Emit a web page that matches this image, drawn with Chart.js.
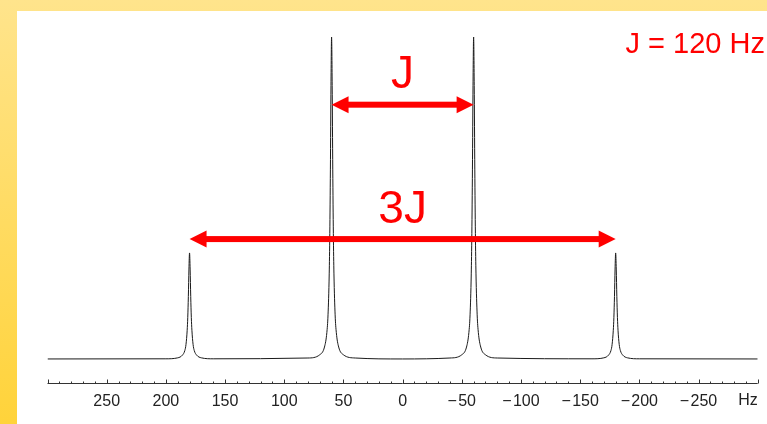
<!DOCTYPE html>
<html>
<head>
<meta charset="utf-8">
<script src="https://cdn.jsdelivr.net/npm/chart.js@4.4.1/dist/chart.umd.min.js"></script>
<style>
  html, body { margin: 0; padding: 0; width: 767px; height: 424px; overflow: hidden; }
  body { background: linear-gradient(to bottom, #ffe48c, #ffd33a); position: relative; }
  #sheet { position: absolute; left: 17px; top: 11px; right: 0; bottom: 0; background: #fff; }
  #chart { position: absolute; left: 0; top: 0; }
</style>
</head>
<body>
<div id="sheet"></div>
<canvas id="chart" width="767" height="424"></canvas>
<script>
// 1:3:3:1 quartet, J = 120 Hz, lines at +/-60 and +/-180 Hz
const spectrumHz = [
  300, 200, 190, 186, 184, 183, 182, 181.5, 181, 180.5, 180, 179.5, 179, 178.5, 178, 177, 176, 174, 170, 160,
  80, 70, 66, 64, 63, 62, 61.5, 61, 60.5, 60, 59.5, 59, 58.5, 58, 57, 56, 54, 50, 40,
  0,
  -40, -50, -54, -56, -57, -58, -58.5, -59, -59.5, -60, -60.5, -61, -61.5, -62, -63, -64, -66, -70, -80,
  -160, -170, -174, -176, -177, -178, -178.5, -179, -179.5, -180, -180.5, -181, -181.5, -182, -183, -184, -186, -190, -200, -300
];
const spectrumIntensity = [
  0.1, 0.15, 0.45, 1.3, 2.7, 4.6, 9, 13, 19.5, 28, 33, 28, 19.5, 13, 9, 4.6, 2.7, 1.3, 0.45, 0.15,
  0.4, 1.4, 3.8, 8.3, 13.8, 26.5, 39, 59, 85, 100, 85, 59, 39, 26.5, 13.8, 8.3, 3.8, 1.4, 0.4,
  0.1,
  0.4, 1.4, 3.8, 8.3, 13.8, 26.5, 39, 59, 85, 100, 85, 59, 39, 26.5, 13.8, 8.3, 3.8, 1.4, 0.4,
  0.15, 0.45, 1.3, 2.7, 4.6, 9, 13, 19.5, 28, 33, 28, 19.5, 13, 9, 4.6, 2.7, 1.3, 0.45, 0.15, 0.1
];
const tickLabels = [250, 200, 150, 100, 50, 0, -50, -100, -150, -200, -250];
const axisEnds = [300, -300];
const minorStep = 10;

// arrows span between the peaks, in Hz and intensity units
const arrowFrom = [60, 180];
const arrowTo = [-60, -180];
const arrowLevel = [79, 37.3];
const arrowText = ['J', '3J'];
const arrowTextLevel = [84.2, 42.3];

const RED = '#ff0000';
const TICK_FONT = '"Liberation Sans", Arial, sans-serif';

function drawArrow(ctx, xa, xb, y, shaft, headLen, headHalf) {
  const l = Math.min(xa, xb), r = Math.max(xa, xb);
  ctx.fillRect(l + headLen - 1, y - shaft / 2, r - l - 2 * headLen + 2, shaft);
  ctx.beginPath();
  ctx.moveTo(l, y);
  ctx.lineTo(l + headLen, y - headHalf);
  ctx.lineTo(l + headLen, y + headHalf);
  ctx.closePath();
  ctx.fill();
  ctx.beginPath();
  ctx.moveTo(r, y);
  ctx.lineTo(r - headLen, y - headHalf);
  ctx.lineTo(r - headLen, y + headHalf);
  ctx.closePath();
  ctx.fill();
}

const extras = {
  id: 'extras',
  afterDraw(chart) {
    const ctx = chart.ctx;
    const xs = chart.scales.x, ys = chart.scales.y;
    const axisY = Math.round(xs.top) + 0.5;
    ctx.save();
    // axis line with upward ticks
    ctx.strokeStyle = '#333';
    ctx.lineWidth = 1;
    ctx.beginPath();
    ctx.moveTo(xs.getPixelForValue(axisEnds[0]), axisY);
    ctx.lineTo(xs.getPixelForValue(axisEnds[1]), axisY);
    for (let v = axisEnds[1]; v <= axisEnds[0]; v += minorStep) {
      const px = Math.round(xs.getPixelForValue(v)) + 0.5;
      const major = v % 50 === 0;
      ctx.moveTo(px, axisY);
      ctx.lineTo(px, axisY - (major ? 4 : 2));
    }
    ctx.stroke();
    // unit label at the right end
    ctx.fillStyle = '#222';
    ctx.font = '16px ' + TICK_FONT;
    ctx.textAlign = 'right';
    ctx.textBaseline = 'alphabetic';
    ctx.fillText('Hz', xs.getPixelForValue(axisEnds[1]), 405);

    // red arrows and labels
    ctx.fillStyle = RED;
    for (let i = 0; i < arrowFrom.length; i++) {
      drawArrow(ctx, xs.getPixelForValue(arrowFrom[i]), xs.getPixelForValue(arrowTo[i]),
        ys.getPixelForValue(arrowLevel[i]), 6, 17, 8.5);
      ctx.font = '46px "Comic Sans MS", "Liberation Sans", sans-serif';
      ctx.textAlign = 'center';
      ctx.fillText(arrowText[i], xs.getPixelForValue(0), ys.getPixelForValue(arrowTextLevel[i]));
    }
    ctx.font = '29px "Comic Sans MS", "Liberation Sans", sans-serif';
    ctx.textAlign = 'right';
    ctx.fillText('J = 120 Hz', 765, 53);
    ctx.restore();
  }
};

new Chart(document.getElementById('chart'), {
  type: 'line',
  data: {
    datasets: [{
      data: spectrumHz.map((hz, i) => ({ x: hz, y: spectrumIntensity[i] })),
      borderColor: '#1a1a1a',
      borderWidth: 1,
      pointRadius: 0,
      cubicInterpolationMode: 'monotone',
      fill: false
    }]
  },
  options: {
    responsive: false,
    animation: false,
    devicePixelRatio: 1,
    layout: { padding: { left: 47.5, right: 9.3, top: 20.9, bottom: 10.7 } },
    plugins: { legend: { display: false }, tooltip: { enabled: false } },
    scales: {
      x: {
        type: 'linear',
        min: -300,
        max: 300,
        reverse: true,
        grid: { display: false, drawTicks: false },
        border: { display: false },
        afterBuildTicks: (scale) => { scale.ticks = tickLabels.map(v => ({ value: v })); },
        afterFit: (scale) => { scale.height = 30; },
        ticks: {
          autoSkip: false,
          maxRotation: 0,
          padding: 9,
          color: '#222',
          font: { family: TICK_FONT, size: 16 },
          callback: (v) => (v < 0 ? '\u2212\u200a' + Math.abs(v) : String(v))
        }
      },
      y: {
        display: false,
        min: -7.45,
        max: 105
      }
    }
  },
  plugins: [extras]
});
</script>
</body>
</html>
